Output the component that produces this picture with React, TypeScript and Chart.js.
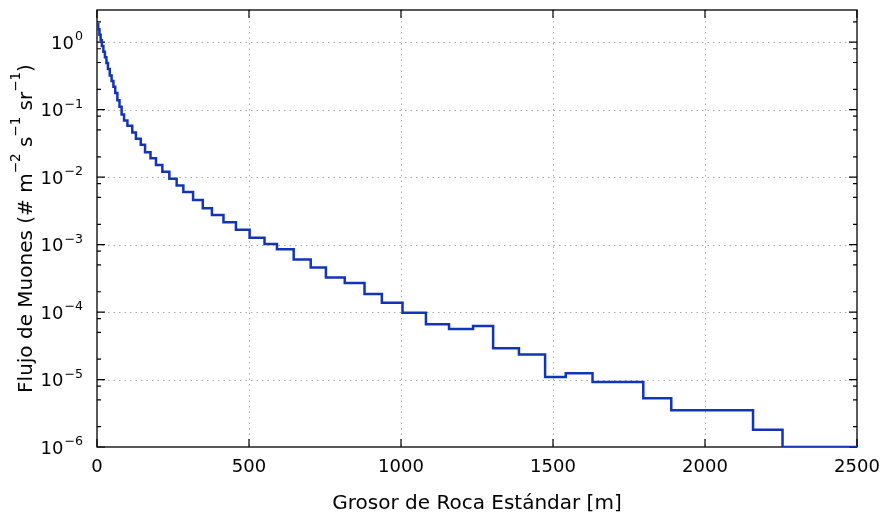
import { useEffect, useRef } from 'react';
import { Chart, registerables } from 'chart.js';

Chart.register(...registerables);

// Left edge of every thickness bin (m) and the muon flux in that bin
const binEdges = [
  0, 4, 8, 12, 16, 21, 26, 31, 36, 42, 48, 54, 60, 67, 74, 81, 89, 100, 116, 128,
  144, 158, 176, 194, 215, 238, 262, 284, 316, 348, 378, 416, 457, 502, 551, 592,
  647, 703, 753, 815, 880, 937, 1005, 1082, 1158, 1237, 1303, 1388, 1474, 1542,
  1630, 1797, 1889, 2158, 2255,
];
const muonFlux = [
  1.86, 1.55, 1.29, 1.07, 0.875, 0.72, 0.6, 0.49, 0.4, 0.32, 0.265, 0.219, 0.176,
  0.138, 0.11, 0.085, 0.069, 0.0575, 0.0457, 0.0372, 0.0302, 0.0234, 0.019, 0.0151,
  0.012, 0.0095, 0.0075, 0.006, 0.0046, 0.00347, 0.00275, 0.00214, 0.00166, 0.00126,
  0.00102, 0.00085, 0.0006, 0.000457, 0.000324, 0.000269, 0.000186, 0.000138,
  0.000098, 0.000066, 0.000056, 0.000062, 0.000029, 0.0000235, 0.0000109, 0.0000124,
  0.0000092, 0.0000053, 0.0000035, 0.0000018, 0.000001,
];

const xMin = 0;
const xMax = 2500;
const yMin = 1e-6;
const yMax = 3;
const xTickValues = [0, 500, 1000, 1500, 2000, 2500];
const yDecadeExponents = [0, -1, -2, -3, -4, -5, -6];
const yMinorMantissas = [2, 5, 8];

const MINUS = '\u2212';
const xTitle = 'Grosor de Roca Estándar [m]';
// [text, isSuperscript]
const yTitleParts: [string, boolean][] = [
  ['Flujo de Muones (# m', false],
  [MINUS + '2', true],
  [' s', false],
  [MINUS + '1', true],
  [' sr', false],
  [MINUS + '1', true],
  [')', false],
];

const FONT = '"DejaVu Sans", "Liberation Sans", sans-serif';
const LINE_COLOR = '#1234b8';

const axesPlugin = {
  id: 'framedAxes',
  beforeDatasetsDraw(chart: any) {
    const { ctx, chartArea } = chart;
    const { left, right, top, bottom } = chartArea;
    const xs = chart.scales.x;
    const ys = chart.scales.y;
    ctx.save();

    // dotted grid at major ticks
    ctx.strokeStyle = '#a8a8a8';
    ctx.lineWidth = 1;
    ctx.setLineDash([1.5, 4]);
    for (const v of xTickValues) {
      const px = Math.round(xs.getPixelForValue(v)) + 0.5;
      if (px <= left + 1 || px >= right - 1) continue;
      ctx.beginPath();
      ctx.moveTo(px, top);
      ctx.lineTo(px, bottom);
      ctx.stroke();
    }
    for (const e of yDecadeExponents) {
      const py = Math.round(ys.getPixelForValue(Math.pow(10, e))) + 0.5;
      if (py <= top + 1 || py >= bottom - 1) continue;
      ctx.beginPath();
      ctx.moveTo(left, py);
      ctx.lineTo(right, py);
      ctx.stroke();
    }
    ctx.setLineDash([]);

    // inward tick marks on all four sides
    ctx.strokeStyle = '#000';
    ctx.lineWidth = 1.2;
    const major = 8;
    const minor = 4;
    for (const v of xTickValues) {
      const px = xs.getPixelForValue(v);
      ctx.beginPath();
      ctx.moveTo(px, bottom);
      ctx.lineTo(px, bottom - major);
      ctx.moveTo(px, top);
      ctx.lineTo(px, top + major);
      ctx.stroke();
    }
    for (let e = -6; e <= 0; e++) {
      const py = ys.getPixelForValue(Math.pow(10, e));
      ctx.beginPath();
      ctx.moveTo(left, py);
      ctx.lineTo(left + major, py);
      ctx.moveTo(right, py);
      ctx.lineTo(right - major, py);
      ctx.stroke();
      for (const m of yMinorMantissas) {
        const val = m * Math.pow(10, e);
        if (val > yMax) continue;
        const pm = ys.getPixelForValue(val);
        ctx.beginPath();
        ctx.moveTo(left, pm);
        ctx.lineTo(left + minor, pm);
        ctx.moveTo(right, pm);
        ctx.lineTo(right - minor, pm);
        ctx.stroke();
      }
    }

    // frame
    ctx.lineWidth = 1.3;
    ctx.strokeRect(left, top, right - left, bottom - top);

    // y tick labels: 10 with a raised exponent
    ctx.fillStyle = '#000';
    ctx.textBaseline = 'alphabetic';
    ctx.textAlign = 'left';
    const labelRight = left - 14;
    for (const e of yDecadeExponents) {
      const py = ys.getPixelForValue(Math.pow(10, e));
      const expText = e === 0 ? '0' : MINUS + String(-e);
      ctx.font = `18px ${FONT}`;
      const wBase = ctx.measureText('10').width;
      ctx.font = `12.6px ${FONT}`;
      const wExp = ctx.measureText(expText).width;
      const x0 = labelRight - wExp - wBase - 1;
      const baseY = py + 6.5;
      ctx.font = `18px ${FONT}`;
      ctx.fillText('10', x0, baseY);
      ctx.font = `12.6px ${FONT}`;
      ctx.fillText(expText, x0 + wBase + 1, baseY - 8.5);
    }

    // rotated y-axis title with superscripts
    ctx.save();
    ctx.translate(31.5, (top + bottom) / 2);
    ctx.rotate(-Math.PI / 2);
    let total = 0;
    const widths: number[] = [];
    for (const [text, sup] of yTitleParts) {
      ctx.font = `${sup ? 13.5 : 20}px ${FONT}`;
      const w = ctx.measureText(text).width;
      widths.push(w);
      total += w;
    }
    let cx = -total / 2;
    yTitleParts.forEach(([text, sup], i) => {
      ctx.font = `${sup ? 13.5 : 20}px ${FONT}`;
      ctx.fillText(text, cx, sup ? -12 : 0);
      cx += widths[i];
    });
    ctx.restore();

    ctx.restore();
  },
};

export default function App() {
  const canvasRef = useRef<HTMLCanvasElement | null>(null);

  useEffect(() => {
    document.body.style.margin = '0';
    document.body.style.background = '#ffffff';
    const canvas = canvasRef.current;
    if (!canvas) return;

    const points = binEdges.map((x, i) => ({ x, y: muonFlux[i] }));
    points.push({ x: xMax, y: muonFlux[muonFlux.length - 1] });

    const chart = new Chart(canvas, {
      type: 'line',
      data: {
        datasets: [
          {
            data: points,
            stepped: 'before',
            borderColor: LINE_COLOR,
            borderWidth: 2.5,
            pointRadius: 0,
            fill: false,
            tension: 0,
          },
        ],
      },
      options: {
        responsive: false,
        animation: false,
        events: [],
        layout: { padding: { left: 97, right: 31, top: 10, bottom: 4.4 } },
        plugins: {
          legend: { display: false },
          tooltip: { enabled: false },
        },
        scales: {
          x: {
            type: 'linear',
            min: xMin,
            max: xMax,
            grid: { display: false, drawTicks: false },
            border: { display: false },
            afterBuildTicks: (scale: any) => {
              scale.ticks = xTickValues.map((value) => ({ value }));
            },
            afterFit: (scale: any) => {
              // end labels fit inside the layout padding already
              scale.paddingLeft = 0;
              scale.paddingRight = 0;
            },
            ticks: {
              autoSkip: false,
              maxRotation: 0,
              padding: 10,
              color: '#000',
              font: { family: FONT, size: 18 },
              callback: (value: any) => String(value),
            },
            title: {
              display: true,
              text: xTitle,
              color: '#000',
              font: { family: FONT, size: 20 },
              padding: { top: 3, bottom: 0 },
            },
          },
          y: {
            type: 'logarithmic',
            min: yMin,
            max: yMax,
            display: false,
          },
        },
      },
      plugins: [axesPlugin],
    });

    return () => chart.destroy();
  }, []);

  return (
    <div style={{ width: 888, height: 520, background: '#fff' }}>
      <canvas ref={canvasRef} width={888} height={520} style={{ display: 'block' }} />
    </div>
  );
}
